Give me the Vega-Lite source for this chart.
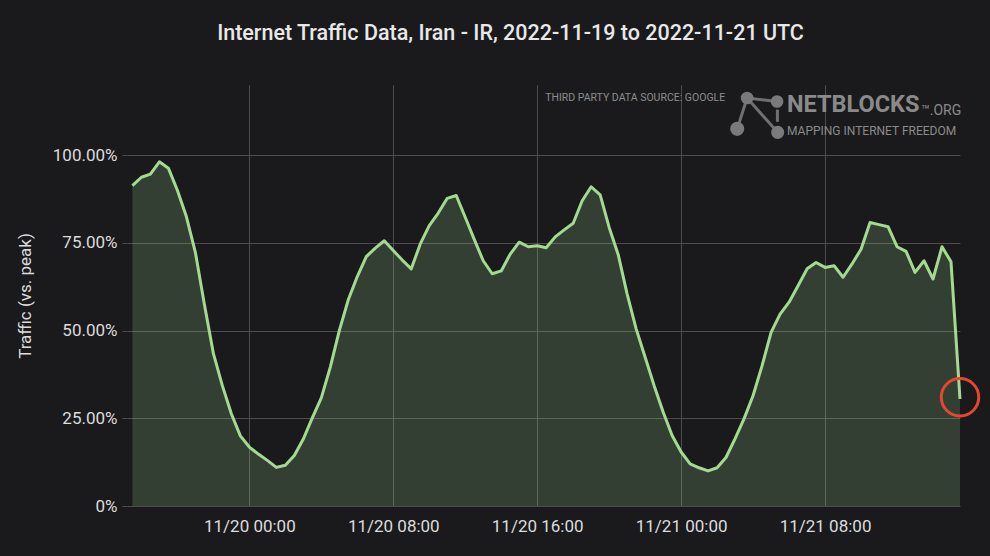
{
  "$schema": "https://vega.github.io/schema/vega-lite/v6.json",
  "width": 833,
  "height": 421,
  "autosize": {"type": "none"},
  "padding": {"left": 127, "top": 85, "right": 30, "bottom": 50},
  "background": "#1a1a1c",
  "title": {
    "text": "Internet Traffic Data, Iran - IR, 2022-11-19 to 2022-11-21 UTC",
    "anchor": "middle",
    "frame": "group",
    "dx": -33,
    "offset": 41,
    "fontSize": 21.5,
    "fontWeight": 500,
    "font": "Roboto",
    "color": "#e8e8e8"
  },
  "config": {"view": {"stroke": null}, "font": "Roboto"},
  "data": {
    "values": [
      {"t": "2022-11-19T17:30:00Z", "v": 0.913},
      {"t": "2022-11-19T18:00:00Z", "v": 0.937},
      {"t": "2022-11-19T18:30:00Z", "v": 0.946},
      {"t": "2022-11-19T19:00:00Z", "v": 0.981},
      {"t": "2022-11-19T19:30:00Z", "v": 0.963},
      {"t": "2022-11-19T20:00:00Z", "v": 0.900},
      {"t": "2022-11-19T20:30:00Z", "v": 0.825},
      {"t": "2022-11-19T21:00:00Z", "v": 0.723},
      {"t": "2022-11-19T21:30:00Z", "v": 0.575},
      {"t": "2022-11-19T22:00:00Z", "v": 0.435},
      {"t": "2022-11-19T22:30:00Z", "v": 0.343},
      {"t": "2022-11-19T23:00:00Z", "v": 0.263},
      {"t": "2022-11-19T23:30:00Z", "v": 0.200},
      {"t": "2022-11-20T00:00:00Z", "v": 0.168},
      {"t": "2022-11-20T00:30:00Z", "v": 0.148},
      {"t": "2022-11-20T01:00:00Z", "v": 0.130},
      {"t": "2022-11-20T01:30:00Z", "v": 0.110},
      {"t": "2022-11-20T02:00:00Z", "v": 0.116},
      {"t": "2022-11-20T02:30:00Z", "v": 0.144},
      {"t": "2022-11-20T03:00:00Z", "v": 0.191},
      {"t": "2022-11-20T03:30:00Z", "v": 0.251},
      {"t": "2022-11-20T04:00:00Z", "v": 0.308},
      {"t": "2022-11-20T04:30:00Z", "v": 0.396},
      {"t": "2022-11-20T05:00:00Z", "v": 0.500},
      {"t": "2022-11-20T05:30:00Z", "v": 0.588},
      {"t": "2022-11-20T06:00:00Z", "v": 0.654},
      {"t": "2022-11-20T06:30:00Z", "v": 0.711},
      {"t": "2022-11-20T07:00:00Z", "v": 0.735},
      {"t": "2022-11-20T07:30:00Z", "v": 0.756},
      {"t": "2022-11-20T08:00:00Z", "v": 0.728},
      {"t": "2022-11-20T08:30:00Z", "v": 0.701},
      {"t": "2022-11-20T09:00:00Z", "v": 0.676},
      {"t": "2022-11-20T09:30:00Z", "v": 0.747},
      {"t": "2022-11-20T10:00:00Z", "v": 0.799},
      {"t": "2022-11-20T10:30:00Z", "v": 0.835},
      {"t": "2022-11-20T11:00:00Z", "v": 0.877},
      {"t": "2022-11-20T11:30:00Z", "v": 0.885},
      {"t": "2022-11-20T12:00:00Z", "v": 0.823},
      {"t": "2022-11-20T12:30:00Z", "v": 0.760},
      {"t": "2022-11-20T13:00:00Z", "v": 0.699},
      {"t": "2022-11-20T13:30:00Z", "v": 0.662},
      {"t": "2022-11-20T14:00:00Z", "v": 0.670},
      {"t": "2022-11-20T14:30:00Z", "v": 0.718},
      {"t": "2022-11-20T15:00:00Z", "v": 0.752},
      {"t": "2022-11-20T15:30:00Z", "v": 0.739},
      {"t": "2022-11-20T16:00:00Z", "v": 0.742},
      {"t": "2022-11-20T16:30:00Z", "v": 0.736},
      {"t": "2022-11-20T17:00:00Z", "v": 0.767},
      {"t": "2022-11-20T17:30:00Z", "v": 0.787},
      {"t": "2022-11-20T18:00:00Z", "v": 0.806},
      {"t": "2022-11-20T18:30:00Z", "v": 0.870},
      {"t": "2022-11-20T19:00:00Z", "v": 0.910},
      {"t": "2022-11-20T19:30:00Z", "v": 0.887},
      {"t": "2022-11-20T20:00:00Z", "v": 0.794},
      {"t": "2022-11-20T20:30:00Z", "v": 0.717},
      {"t": "2022-11-20T21:00:00Z", "v": 0.604},
      {"t": "2022-11-20T21:30:00Z", "v": 0.505},
      {"t": "2022-11-20T22:00:00Z", "v": 0.424},
      {"t": "2022-11-20T22:30:00Z", "v": 0.343},
      {"t": "2022-11-20T23:00:00Z", "v": 0.268},
      {"t": "2022-11-20T23:30:00Z", "v": 0.201},
      {"t": "2022-11-21T00:00:00Z", "v": 0.154},
      {"t": "2022-11-21T00:30:00Z", "v": 0.120},
      {"t": "2022-11-21T01:00:00Z", "v": 0.109},
      {"t": "2022-11-21T01:30:00Z", "v": 0.100},
      {"t": "2022-11-21T02:00:00Z", "v": 0.109},
      {"t": "2022-11-21T02:30:00Z", "v": 0.139},
      {"t": "2022-11-21T03:00:00Z", "v": 0.192},
      {"t": "2022-11-21T03:30:00Z", "v": 0.249},
      {"t": "2022-11-21T04:00:00Z", "v": 0.315},
      {"t": "2022-11-21T04:30:00Z", "v": 0.400},
      {"t": "2022-11-21T05:00:00Z", "v": 0.495},
      {"t": "2022-11-21T05:30:00Z", "v": 0.547},
      {"t": "2022-11-21T06:00:00Z", "v": 0.581},
      {"t": "2022-11-21T06:30:00Z", "v": 0.628},
      {"t": "2022-11-21T07:00:00Z", "v": 0.676},
      {"t": "2022-11-21T07:30:00Z", "v": 0.694},
      {"t": "2022-11-21T08:00:00Z", "v": 0.680},
      {"t": "2022-11-21T08:30:00Z", "v": 0.685},
      {"t": "2022-11-21T09:00:00Z", "v": 0.652},
      {"t": "2022-11-21T09:30:00Z", "v": 0.690},
      {"t": "2022-11-21T10:00:00Z", "v": 0.732},
      {"t": "2022-11-21T10:30:00Z", "v": 0.808},
      {"t": "2022-11-21T11:00:00Z", "v": 0.802},
      {"t": "2022-11-21T11:30:00Z", "v": 0.796},
      {"t": "2022-11-21T12:00:00Z", "v": 0.739},
      {"t": "2022-11-21T12:30:00Z", "v": 0.726},
      {"t": "2022-11-21T13:00:00Z", "v": 0.666},
      {"t": "2022-11-21T13:30:00Z", "v": 0.699},
      {"t": "2022-11-21T14:00:00Z", "v": 0.647},
      {"t": "2022-11-21T14:30:00Z", "v": 0.739},
      {"t": "2022-11-21T15:00:00Z", "v": 0.696},
      {"t": "2022-11-21T15:30:00Z", "v": 0.305}
    ]
  },
  "layer": [
    {
      "mark": {"type": "area", "color": "#9fd88f", "opacity": 0.2},
      "encoding": {
        "x": {
          "field": "t",
          "type": "temporal",
          "scale": {
            "type": "utc",
            "domain": [
              {"year": 2022, "month": 11, "date": 19, "hours": 17, "minutes": 12, "utc": true},
              {"year": 2022, "month": 11, "date": 21, "hours": 15, "minutes": 30, "utc": true}
            ]
          },
          "axis": {
            "title": null,
            "values": [
              {"year": 2022, "month": 11, "date": 20, "hours": 0, "utc": true},
              {"year": 2022, "month": 11, "date": 20, "hours": 8, "utc": true},
              {"year": 2022, "month": 11, "date": 20, "hours": 16, "utc": true},
              {"year": 2022, "month": 11, "date": 21, "hours": 0, "utc": true},
              {"year": 2022, "month": 11, "date": 21, "hours": 8, "utc": true}
            ],
            "labelExpr": "utcFormat(datum.value, '%m/%d %H:%M')",
            "grid": true,
            "gridColor": "#4d4d4d",
            "tickSize": 0,
            "domain": false,
            "labelPadding": 12,
            "labelFontSize": 17,
            "labelColor": "#dcdcdc",
            "labelFont": "Roboto"
          }
        },
        "y": {
          "field": "v",
          "type": "quantitative",
          "scale": {"domain": [0, 1.2], "nice": false},
          "axis": {
            "title": "Traffic (vs. peak)",
            "values": [0, 0.25, 0.5, 0.75, 1],
            "labelExpr": "datum.value == 0 ? '0%' : format(datum.value, '.2%')",
            "grid": true,
            "gridColor": "#4d4d4d",
            "tickSize": 5,
            "tickColor": "#4d4d4d",
            "domain": false,
            "labelPadding": 5,
            "labelFontSize": 17,
            "labelColor": "#dcdcdc",
            "labelFont": "Roboto",
            "titleFontSize": 17,
            "titleFontWeight": "normal",
            "titleColor": "#dcdcdc",
            "titleFont": "Roboto",
            "titlePadding": 18
          }
        }
      }
    },
    {
      "mark": {"type": "line", "color": "#a3da90", "strokeWidth": 3, "strokeJoin": "round"},
      "encoding": {
        "x": {"field": "t", "type": "temporal"},
        "y": {"field": "v", "type": "quantitative"}
      }
    },
    {
      "data": {"values": [{}]},
      "mark": {"type": "point", "shape": "circle", "filled": false, "stroke": "#e5482f", "strokeWidth": 3, "size": 1400, "opacity": 1},
      "encoding": {
        "x": {"datum": {"year": 2022, "month": 11, "date": 21, "hours": 15, "minutes": 30, "utc": true}, "type": "temporal"},
        "y": {"datum": 0.31, "type": "quantitative"}
      }
    },
    {
      "data": {"values": [{}]},
      "mark": {"type": "text", "text": "THIRD PARTY DATA SOURCE: GOOGLE", "align": "right", "baseline": "middle", "fontSize": 10.5, "font": "Roboto", "color": "#8c8c8c"},
      "encoding": {
        "x": {"datum": {"year": 2022, "month": 11, "date": 21, "hours": 2, "minutes": 27, "utc": true}, "type": "temporal"},
        "y": {"datum": 1.164, "type": "quantitative"}
      }
    },
    {
      "data": {"values": [{}]},
      "mark": {"type": "text", "text": "NETBLOCKS", "align": "left", "baseline": "middle", "fontSize": 23.5, "fontWeight": "bold", "font": "Roboto", "color": "#8a8a8a"},
      "encoding": {
        "x": {"datum": {"year": 2022, "month": 11, "date": 21, "hours": 5, "minutes": 53, "utc": true}, "type": "temporal"},
        "y": {"datum": 1.143, "type": "quantitative"}
      }
    },
    {
      "data": {"values": [{}]},
      "mark": {"type": "text", "text": "™.ORG", "align": "left", "baseline": "middle", "fontSize": 14, "font": "Roboto", "color": "#8a8a8a"},
      "encoding": {
        "x": {"datum": {"year": 2022, "month": 11, "date": 21, "hours": 13, "minutes": 20, "utc": true}, "type": "temporal"},
        "y": {"datum": 1.126, "type": "quantitative"}
      }
    },
    {
      "data": {"values": [{}]},
      "mark": {"type": "text", "text": "MAPPING INTERNET FREEDOM", "align": "left", "baseline": "middle", "fontSize": 12, "font": "Roboto", "color": "#8a8a8a"},
      "encoding": {
        "x": {"datum": {"year": 2022, "month": 11, "date": 21, "hours": 5, "minutes": 53, "utc": true}, "type": "temporal"},
        "y": {"datum": 1.07, "type": "quantitative"}
      }
    },
    {
      "data": {"values": [{}]},
      "mark": {"type": "rule", "stroke": "#707070", "strokeWidth": 3},
      "encoding": {
        "x": {"datum": {"year": 2022, "month": 11, "date": 21, "hours": 3, "minutes": 40, "utc": true}, "type": "temporal"},
        "x2": {"datum": {"year": 2022, "month": 11, "date": 21, "hours": 5, "minutes": 20, "utc": true}},
        "y": {"datum": 1.163, "type": "quantitative"},
        "y2": {"datum": 1.153}
      }
    },
    {
      "data": {"values": [{}]},
      "mark": {"type": "rule", "stroke": "#707070", "strokeWidth": 3},
      "encoding": {
        "x": {"datum": {"year": 2022, "month": 11, "date": 21, "hours": 3, "minutes": 40, "utc": true}, "type": "temporal"},
        "x2": {"datum": {"year": 2022, "month": 11, "date": 21, "hours": 3, "minutes": 7, "utc": true}},
        "y": {"datum": 1.163, "type": "quantitative"},
        "y2": {"datum": 1.075}
      }
    },
    {
      "data": {"values": [{}]},
      "mark": {"type": "rule", "stroke": "#707070", "strokeWidth": 3},
      "encoding": {
        "x": {"datum": {"year": 2022, "month": 11, "date": 21, "hours": 3, "minutes": 40, "utc": true}, "type": "temporal"},
        "x2": {"datum": {"year": 2022, "month": 11, "date": 21, "hours": 5, "minutes": 22, "utc": true}},
        "y": {"datum": 1.163, "type": "quantitative"},
        "y2": {"datum": 1.065}
      }
    },
    {
      "data": {"values": [{}]},
      "mark": {"type": "rule", "stroke": "#707070", "strokeWidth": 3},
      "encoding": {
        "x": {"datum": {"year": 2022, "month": 11, "date": 21, "hours": 5, "minutes": 21, "utc": true}, "type": "temporal"},
        "y": {"datum": 1.13, "type": "quantitative"},
        "y2": {"datum": 1.095}
      }
    },
    {
      "data": {"values": [{}]},
      "mark": {"type": "point", "shape": "circle", "filled": true, "color": "#7a7a7a", "size": 160, "opacity": 1},
      "encoding": {
        "x": {"datum": {"year": 2022, "month": 11, "date": 21, "hours": 3, "minutes": 40, "utc": true}, "type": "temporal"},
        "y": {"datum": 1.163, "type": "quantitative"}
      }
    },
    {
      "data": {"values": [{}]},
      "mark": {"type": "point", "shape": "circle", "filled": true, "color": "#7a7a7a", "size": 160, "opacity": 1},
      "encoding": {
        "x": {"datum": {"year": 2022, "month": 11, "date": 21, "hours": 5, "minutes": 20, "utc": true}, "type": "temporal"},
        "y": {"datum": 1.153, "type": "quantitative"}
      }
    },
    {
      "data": {"values": [{}]},
      "mark": {"type": "point", "shape": "circle", "filled": true, "color": "#7a7a7a", "size": 200, "opacity": 1},
      "encoding": {
        "x": {"datum": {"year": 2022, "month": 11, "date": 21, "hours": 3, "minutes": 7, "utc": true}, "type": "temporal"},
        "y": {"datum": 1.075, "type": "quantitative"}
      }
    },
    {
      "data": {"values": [{}]},
      "mark": {"type": "point", "shape": "circle", "filled": true, "color": "#7a7a7a", "size": 170, "opacity": 1},
      "encoding": {
        "x": {"datum": {"year": 2022, "month": 11, "date": 21, "hours": 5, "minutes": 22, "utc": true}, "type": "temporal"},
        "y": {"datum": 1.065, "type": "quantitative"}
      }
    }
  ]
}
